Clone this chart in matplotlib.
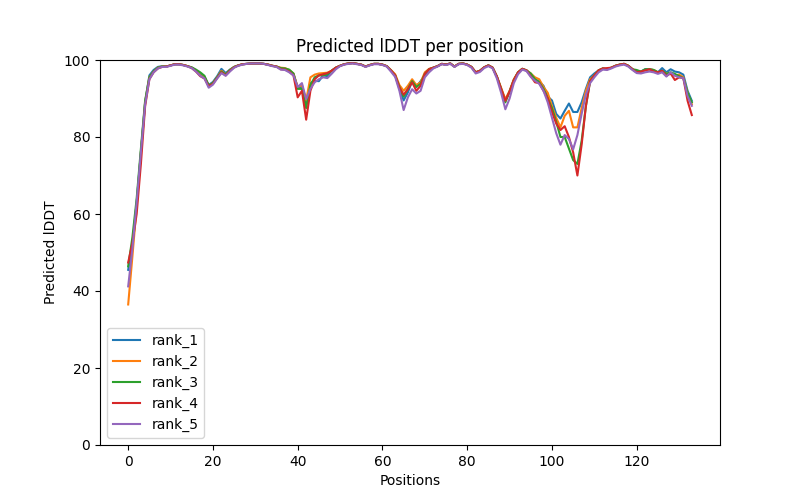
import matplotlib
matplotlib.use("Agg")
import matplotlib.pyplot as plt
import numpy as np

labels = ["rank_1", "rank_2", "rank_3", "rank_4", "rank_5"]

rank_1 = [45.5, 52, 63, 76, 89,
          96.0, 97.4, 98.2, 98.4, 98.3, 98.6, 98.9, 98.9, 98.7, 98.4, 98.0, 97.3, 96.2, 95.6, 93.5,
          94.3, 95.8, 97.7, 96.6, 97.5, 98.2, 98.6, 98.9, 99.0, 99.1, 99.1, 99.1, 99.0, 98.8, 98.5,
          98.3, 97.8, 97.7, 97.2, 96.4,
          92.8, 93.0, 89.0, 94.0, 94.6, 94.5, 96.0, 95.8, 97.2, 98.0,
          98.5, 98.9, 99.1, 99.2, 99.0, 98.8, 98.3, 98.7, 99.0, 99.0, 98.8, 98.4, 97.3, 96.0,
          92.5, 89.5, 91.6, 94.5, 93.0, 94.5, 96.0, 97.6,
          98.0, 98.4, 99.0, 98.8, 99.1, 98.3, 99.0, 99.1, 98.8, 98.2, 96.8, 97.2, 98.1, 98.6,
          98.0, 95.7, 92.5,
          89.5, 91.8, 94.8, 96.8, 97.7, 97.3, 96.2, 95.0, 94.4, 93.3,
          90.5, 89.5, 86.0, 84.8, 86.8, 88.7, 86.5, 86.5, 89.0, 92.5, 95.5, 96.5,
          97.3, 97.8, 97.6, 98.0, 98.5, 98.8, 99.0, 98.5, 97.6, 96.8, 97.0, 97.6, 97.6, 97.4, 96.8,
          97.9, 96.8, 97.6, 97.0, 96.8, 96.2, 92.0, 89.4]

rank_2 = [36.5, 49, 62, 76, 89,
          95.5, 97.0, 98.0, 98.3, 98.3, 98.6, 98.9, 98.9, 98.7, 98.4, 98.0, 97.2, 96.0, 95.5, 93.2,
          94.0, 95.5, 97.2, 96.2, 97.4, 98.2, 98.6, 98.9, 99.0, 99.1, 99.1, 99.1, 99.0, 98.8, 98.5,
          98.3, 98.0, 97.9, 97.4, 96.5,
          93.0, 93.5, 89.5, 95.5, 96.2, 96.5, 96.6, 96.7, 97.2, 98.0,
          98.5, 98.9, 99.1, 99.2, 99.0, 98.8, 98.3, 98.7, 99.0, 99.0, 98.8, 98.4, 97.4, 96.3,
          93.5, 92.0, 93.3, 95.0, 93.5, 94.2, 96.8, 97.7,
          98.0, 98.4, 99.0, 98.8, 99.1, 98.3, 99.0, 99.1, 98.8, 98.2, 96.8, 97.2, 98.1, 98.6,
          98.0, 95.7, 92.8,
          89.8, 92.0, 95.0, 96.8, 97.7, 97.3, 96.5, 95.5, 95.0, 93.0,
          91.5, 88.0, 85.0, 82.5, 85.5, 86.8, 82.5, 82.5, 87.5, 92.0, 95.0, 96.0,
          97.3, 97.8, 97.6, 98.0, 98.5, 98.8, 99.0, 98.5, 97.6, 96.8, 97.0, 97.3, 97.6, 97.4, 96.8,
          97.0, 96.5, 96.5, 96.0, 96.2, 95.5, 91.5, 88.5]

rank_3 = [46.4, 54, 64, 77, 89.5,
          95.5, 97.0, 98.0, 98.3, 98.3, 98.6, 98.9, 98.9, 98.7, 98.4, 98.1, 97.5, 96.8, 95.9, 93.4,
          94.0, 95.5, 97.0, 96.2, 97.4, 98.2, 98.6, 98.9, 99.0, 99.1, 99.1, 99.1, 99.0, 98.8, 98.5,
          98.3, 97.9, 97.8, 97.5, 96.5,
          92.5, 92.5, 87.5, 93.5, 95.5, 96.0, 96.0, 96.3, 97.2, 98.0,
          98.5, 98.9, 99.1, 99.2, 99.0, 98.8, 98.3, 98.7, 99.0, 99.0, 98.8, 98.4, 97.3, 96.0,
          93.0, 90.5, 92.5, 94.5, 93.0, 93.8, 96.4, 97.6,
          98.0, 98.4, 99.0, 98.8, 99.1, 98.3, 99.0, 99.1, 98.8, 98.2, 96.8, 97.2, 98.1, 98.6,
          98.0, 95.7, 92.5,
          89.0, 91.8, 94.8, 96.8, 97.7, 97.3, 96.5, 95.0, 94.2, 92.5,
          90.0, 87.5, 84.0, 80.0, 80.0, 77.0, 74.0, 73.0, 79.0, 88.0, 94.5, 96.0,
          97.3, 97.8, 97.6, 98.0, 98.5, 98.8, 99.0, 98.5, 97.6, 97.4, 97.0, 97.6, 97.6, 97.4, 96.8,
          97.2, 96.4, 96.8, 96.4, 95.8, 95.3, 91.5, 89.0]

rank_4 = [47.4, 52.5, 60, 73, 88,
          95.0, 96.8, 97.8, 98.2, 98.3, 98.6, 98.9, 98.9, 98.7, 98.4, 97.9, 97.0, 95.8, 95.2, 93.2,
          93.8, 95.3, 96.8, 96.0, 97.2, 98.1, 98.6, 98.9, 99.0, 99.1, 99.1, 99.1, 99.0, 98.8, 98.5,
          98.3, 97.6, 97.5, 97.0, 96.0,
          90.3, 92.0, 84.5, 92.0, 95.0, 96.0, 96.3, 96.6, 97.2, 98.0,
          98.5, 98.9, 99.1, 99.2, 99.0, 98.8, 98.3, 98.7, 99.0, 99.0, 98.8, 98.4, 97.3, 96.0,
          92.8, 91.0, 92.4, 94.2, 92.0, 93.3, 96.4, 97.6,
          98.0, 98.4, 99.0, 98.8, 99.1, 98.3, 99.0, 99.1, 98.8, 98.2, 96.8, 97.2, 98.1, 98.6,
          98.0, 95.7, 92.5,
          89.4, 91.8, 94.8, 96.8, 97.7, 97.3, 95.8, 94.2, 94.0, 92.0,
          90.0, 86.5, 83.5, 81.8, 82.8, 80.0, 76.0, 70.0, 78.0, 88.0, 94.5, 96.0,
          97.3, 97.8, 97.9, 98.0, 98.5, 98.8, 99.0, 98.5, 97.6, 96.8, 97.0, 97.3, 97.6, 97.0, 96.8,
          97.2, 95.9, 96.5, 94.8, 95.5, 95.3, 89.4, 85.7]

rank_5 = [41.2, 51, 63, 76, 88.5,
          95.0, 96.8, 97.8, 98.2, 98.2, 98.5, 98.8, 98.8, 98.6, 98.3, 97.9, 97.0, 95.9, 95.2, 92.8,
          93.6, 95.2, 96.6, 95.9, 97.0, 98.0, 98.5, 98.8, 99.0, 99.1, 99.1, 99.1, 99.0, 98.7, 98.4,
          98.2, 97.5, 97.4, 96.8, 96.0,
          93.0, 94.0, 89.8, 92.5, 94.2, 95.0, 95.5, 95.3, 96.4, 97.6,
          98.4, 98.8, 99.0, 99.1, 98.9, 98.7, 98.2, 98.6, 98.9, 98.9, 98.7, 98.3, 97.0, 95.6,
          92.0, 87.0, 90.3, 92.4, 91.3, 92.0, 95.5, 96.8,
          97.8, 98.3, 98.9, 98.7, 99.0, 98.2, 98.9, 99.0, 98.7, 98.0, 96.5, 96.9, 97.9, 98.4,
          97.8, 95.2, 91.5,
          87.2, 90.0, 94.0, 96.3, 97.5, 97.1, 95.6, 94.6, 93.8, 92.0,
          89.0, 85.0, 81.0, 78.0, 80.5, 79.5, 76.8, 80.5, 86.0, 91.0, 94.0, 95.5,
          96.8, 97.5, 97.4, 97.8, 98.3, 98.6, 98.8, 98.3, 97.4, 96.6, 96.5, 96.8, 97.0, 96.8, 96.4,
          96.8, 95.7, 96.8, 95.9, 95.5, 95.3, 90.6, 88.1]

series = [rank_1, rank_2, rank_3, rank_4, rank_5]

fig, ax = plt.subplots(figsize=(8, 5), dpi=100)
for lab, vals in zip(labels, series):
    ax.plot(np.arange(len(vals)), vals, label=lab)
ax.set_ylim(0, 100)
ax.set_title("Predicted lDDT per position")
ax.set_xlabel("Positions")
ax.set_ylabel("Predicted lDDT")
ax.legend(loc="lower left")
fig.savefig("out.png", dpi=100)
